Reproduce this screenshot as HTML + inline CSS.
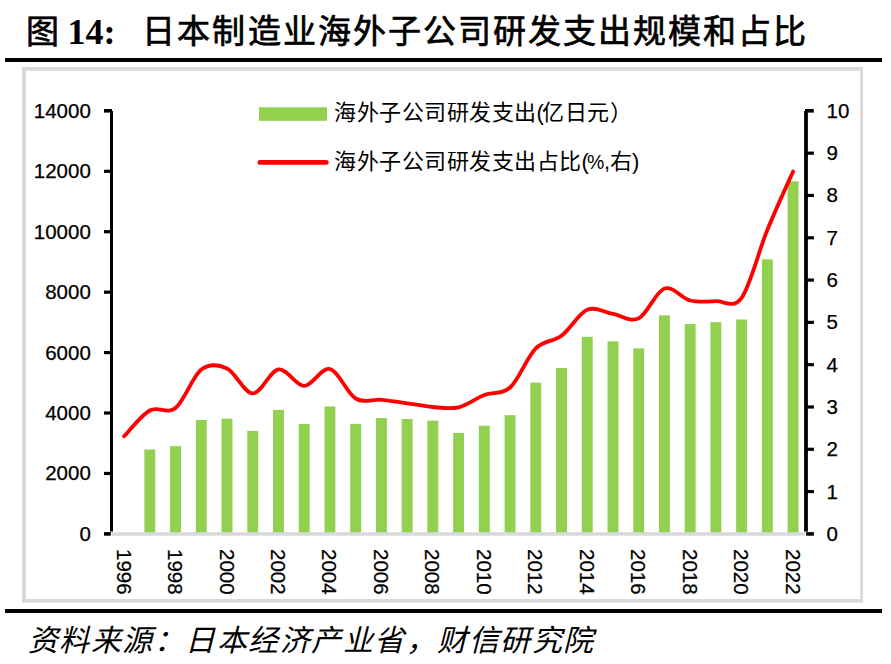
<!DOCTYPE html>
<html lang="zh-CN"><head><meta charset="utf-8">
<style>
html,body{margin:0;padding:0;background:#fff;}
body{width:891px;height:664px;overflow:hidden;position:relative;font-family:"Liberation Sans",sans-serif;color:#000;}
.t{position:absolute;top:10px;font-family:"Liberation Serif",serif;font-weight:normal;-webkit-text-stroke:0.7px #000;font-size:33px;letter-spacing:2.04px;line-height:44px;white-space:nowrap;}
.t14{position:absolute;top:9.5px;font-family:"Liberation Serif",serif;font-weight:bold;font-size:36px;line-height:44px;white-space:nowrap;}
#src{position:absolute;left:27.5px;top:621px;font-family:"Liberation Serif",serif;font-style:italic;font-size:30px;letter-spacing:1.5px;line-height:40px;white-space:nowrap;}
.yl{position:absolute;right:800.2px;width:80px;text-align:right;font-size:20.5px;line-height:22px;-webkit-text-stroke:0.25px #000;}
.yr{position:absolute;left:826.6px;font-size:20.5px;line-height:22px;-webkit-text-stroke:0.25px #000;}
.leg{position:absolute;left:334px;font-family:"Liberation Sans",sans-serif;font-size:22px;letter-spacing:0.5px;line-height:26px;white-space:nowrap;}
svg{position:absolute;left:0;top:0;}
</style></head><body>
<svg width="891" height="664" viewBox="0 0 891 664">
<rect x="5" y="58" width="877" height="4" fill="#000"/>
<rect x="22" y="67" width="841" height="3.8" fill="#D9D9D9"/>
<rect x="22" y="67" width="4" height="535.6" fill="#D9D9D9"/>
<rect x="860.2" y="67" width="2.8" height="535.6" fill="#D9D9D9"/>
<rect x="22" y="599" width="841" height="3.6" fill="#D9D9D9"/>
<rect x="5" y="609" width="877" height="4" fill="#000"/>
<rect x="144.38" y="449.5" width="10.9" height="84.4" fill="#92D050"/>
<rect x="170.11" y="446.2" width="10.9" height="87.7" fill="#92D050"/>
<rect x="195.84" y="420" width="10.9" height="113.9" fill="#92D050"/>
<rect x="221.57" y="418.7" width="10.9" height="115.2" fill="#92D050"/>
<rect x="247.3" y="430.9" width="10.9" height="103" fill="#92D050"/>
<rect x="273.03" y="409.9" width="10.9" height="124" fill="#92D050"/>
<rect x="298.76" y="423.9" width="10.9" height="110" fill="#92D050"/>
<rect x="324.49" y="406.5" width="10.9" height="127.4" fill="#92D050"/>
<rect x="350.22" y="423.9" width="10.9" height="110" fill="#92D050"/>
<rect x="375.95" y="418" width="10.9" height="115.9" fill="#92D050"/>
<rect x="401.68" y="419" width="10.9" height="114.9" fill="#92D050"/>
<rect x="427.41" y="420.6" width="10.9" height="113.3" fill="#92D050"/>
<rect x="453.14" y="432.9" width="10.9" height="101" fill="#92D050"/>
<rect x="478.87" y="425.7" width="10.9" height="108.2" fill="#92D050"/>
<rect x="504.6" y="415.2" width="10.9" height="118.7" fill="#92D050"/>
<rect x="530.33" y="382.6" width="10.9" height="151.3" fill="#92D050"/>
<rect x="556.06" y="368" width="10.9" height="165.9" fill="#92D050"/>
<rect x="581.79" y="336.8" width="10.9" height="197.1" fill="#92D050"/>
<rect x="607.52" y="341.3" width="10.9" height="192.6" fill="#92D050"/>
<rect x="633.25" y="348.4" width="10.9" height="185.5" fill="#92D050"/>
<rect x="658.98" y="315.4" width="10.9" height="218.5" fill="#92D050"/>
<rect x="684.71" y="324" width="10.9" height="209.9" fill="#92D050"/>
<rect x="710.44" y="322.2" width="10.9" height="211.7" fill="#92D050"/>
<rect x="736.17" y="319.5" width="10.9" height="214.4" fill="#92D050"/>
<rect x="761.9" y="259.3" width="10.9" height="274.6" fill="#92D050"/>
<rect x="787.63" y="181.3" width="10.9" height="352.6" fill="#92D050"/>
<rect x="112" y="532.2" width="693" height="3.5" fill="#D9D9D9"/>
<rect x="110" y="111" width="3" height="420.6" fill="#000"/>
<rect x="104" y="532.1" width="6.8" height="3.6" fill="#000"/>
<rect x="104" y="471.86" width="7" height="3.2" fill="#000"/>
<rect x="104" y="411.43" width="7" height="3.2" fill="#000"/>
<rect x="104" y="350.99" width="7" height="3.2" fill="#000"/>
<rect x="104" y="290.56" width="7" height="3.2" fill="#000"/>
<rect x="104" y="230.12" width="7" height="3.2" fill="#000"/>
<rect x="104" y="169.69" width="7" height="3.2" fill="#000"/>
<rect x="104" y="109" width="8" height="3.6" fill="#000"/>
<rect x="804.1" y="111" width="3.8" height="420.6" fill="#000"/>
<rect x="806.1" y="532.1" width="7.8" height="3.6" fill="#000"/>
<rect x="807" y="489.99" width="6.9" height="3.2" fill="#000"/>
<rect x="807" y="447.69" width="6.9" height="3.2" fill="#000"/>
<rect x="807" y="405.38" width="6.9" height="3.2" fill="#000"/>
<rect x="807" y="363.08" width="6.9" height="3.2" fill="#000"/>
<rect x="807" y="320.77" width="6.9" height="3.2" fill="#000"/>
<rect x="807" y="278.47" width="6.9" height="3.2" fill="#000"/>
<rect x="807" y="236.17" width="6.9" height="3.2" fill="#000"/>
<rect x="807" y="193.86" width="6.9" height="3.2" fill="#000"/>
<rect x="807" y="151.56" width="6.9" height="3.2" fill="#000"/>
<rect x="805" y="109" width="8.8" height="3.6" fill="#000"/>
<path d="M124.1,436.2 C128.39,431.92 141.25,415.2 149.83,410.5 C158.41,405.8 166.98,414.82 175.56,408 C184.14,401.18 192.71,376.18 201.29,369.6 C209.87,363.02 218.44,364.53 227.02,368.5 C235.6,372.47 244.17,393.25 252.75,393.4 C261.33,393.55 269.9,370.67 278.48,369.4 C287.06,368.13 295.63,385.87 304.21,385.8 C312.79,385.73 321.36,366.88 329.94,369 C338.52,371.12 347.09,393.37 355.67,398.5 C364.25,403.63 372.82,399 381.4,399.8 C389.98,400.6 398.55,402.1 407.13,403.3 C415.71,404.5 424.28,406.33 432.86,407 C441.44,407.67 450.01,409.3 458.59,407.3 C467.17,405.3 475.74,398.3 484.32,395 C492.9,391.7 501.47,395.28 510.05,387.5 C518.63,379.72 527.2,356.92 535.78,348.3 C544.36,339.68 552.93,342.22 561.51,335.8 C570.09,329.38 578.66,313.45 587.24,309.8 C595.82,306.15 604.39,312.47 612.97,313.9 C621.55,315.33 630.12,322.63 638.7,318.4 C647.28,314.17 655.85,291.48 664.43,288.5 C673.01,285.52 681.58,298.38 690.16,300.5 C698.74,302.62 707.31,301.65 715.89,301.2 C724.47,300.75 733.04,309.68 741.62,297.8 C750.2,285.92 758.77,250.95 767.35,229.9 C775.93,208.85 788.79,181.23 793.08,171.5" fill="none" stroke="#FF0000" stroke-width="3.8" stroke-linecap="round" stroke-linejoin="round"/>
<rect x="259" y="107.3" width="68" height="13.5" fill="#92D050"/>
<line x1="259.8" y1="162.4" x2="326.4" y2="162.4" stroke="#FF0000" stroke-width="4.6" stroke-linecap="round"/>
<g font-family="Liberation Sans, sans-serif" font-size="20.5" fill="#000" stroke="#000" stroke-width="0.25">
<text transform="translate(124.1,549) rotate(90)" x="0" y="0" dominant-baseline="central">1996</text>
<text transform="translate(175.56,549) rotate(90)" x="0" y="0" dominant-baseline="central">1998</text>
<text transform="translate(227.02,549) rotate(90)" x="0" y="0" dominant-baseline="central">2000</text>
<text transform="translate(278.48,549) rotate(90)" x="0" y="0" dominant-baseline="central">2002</text>
<text transform="translate(329.94,549) rotate(90)" x="0" y="0" dominant-baseline="central">2004</text>
<text transform="translate(381.4,549) rotate(90)" x="0" y="0" dominant-baseline="central">2006</text>
<text transform="translate(432.86,549) rotate(90)" x="0" y="0" dominant-baseline="central">2008</text>
<text transform="translate(484.32,549) rotate(90)" x="0" y="0" dominant-baseline="central">2010</text>
<text transform="translate(535.78,549) rotate(90)" x="0" y="0" dominant-baseline="central">2012</text>
<text transform="translate(587.24,549) rotate(90)" x="0" y="0" dominant-baseline="central">2014</text>
<text transform="translate(638.7,549) rotate(90)" x="0" y="0" dominant-baseline="central">2016</text>
<text transform="translate(690.16,549) rotate(90)" x="0" y="0" dominant-baseline="central">2018</text>
<text transform="translate(741.62,549) rotate(90)" x="0" y="0" dominant-baseline="central">2020</text>
<text transform="translate(793.08,549) rotate(90)" x="0" y="0" dominant-baseline="central">2022</text>
</g>
</svg>
<div class="t" style="left:26px">图</div><div class="t14" style="left:67.5px">14:</div><div class="t" style="left:142.4px">日本制造业海外子公司研发支出规模和占比</div>
<div class="leg" style="top:100px">海外子公司研发支出<span style="letter-spacing:-1.8px">(</span>亿日元）</div>
<div class="leg" style="top:149px">海外子公司研发支出占比<span style="letter-spacing:-1.8px">(</span><span style="font-size:19.5px;letter-spacing:-0.3px">%</span><span style="letter-spacing:-0.6px">,</span>右)</div>
<div class="yl" style="top:522.9px">0</div>
<div class="yl" style="top:462.46px">2000</div>
<div class="yl" style="top:402.03px">4000</div>
<div class="yl" style="top:341.59px">6000</div>
<div class="yl" style="top:281.16px">8000</div>
<div class="yl" style="top:220.72px">10000</div>
<div class="yl" style="top:160.29px">12000</div>
<div class="yl" style="top:99.85px">14000</div>
<div class="yr" style="top:522.9px">0</div>
<div class="yr" style="top:480.59px">1</div>
<div class="yr" style="top:438.29px">2</div>
<div class="yr" style="top:395.99px">3</div>
<div class="yr" style="top:353.68px">4</div>
<div class="yr" style="top:311.38px">5</div>
<div class="yr" style="top:269.07px">6</div>
<div class="yr" style="top:226.77px">7</div>
<div class="yr" style="top:184.46px">8</div>
<div class="yr" style="top:142.16px">9</div>
<div class="yr" style="top:99.85px">10</div>
<div id="src">资料来源：日本经济产业省，财信研究院</div>
</body></html>
